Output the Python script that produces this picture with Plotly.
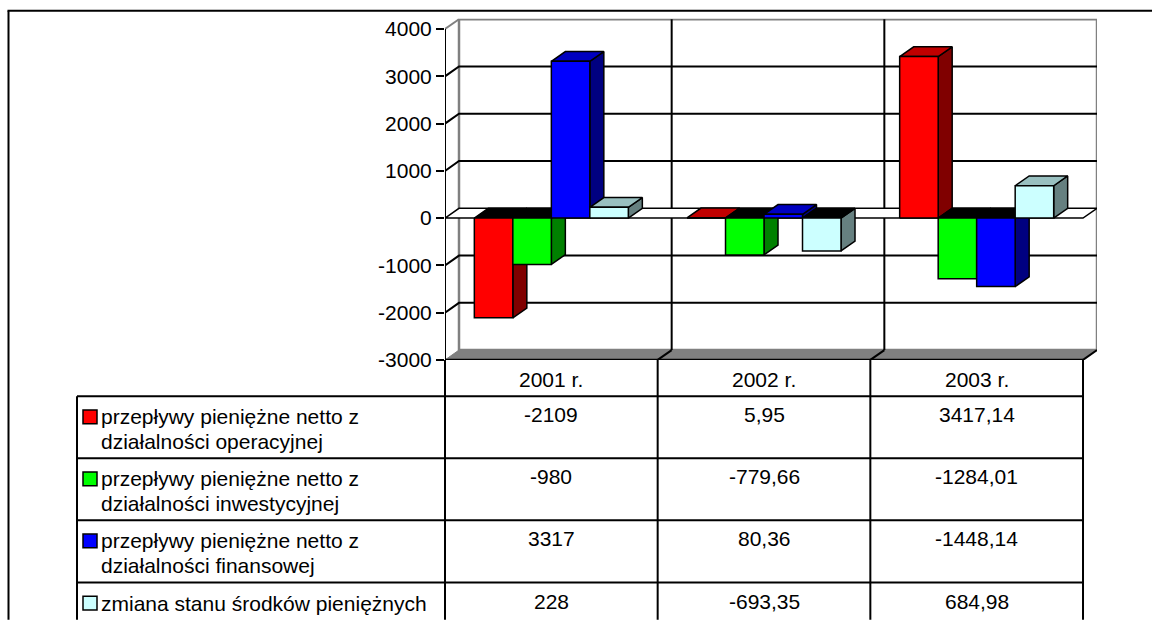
import plotly.graph_objects as go

# ---------------- data ----------------
categories = ["2001 r.", "2002 r.", "2003 r."]
series_names = [
    "przepływy pieniężne netto z\ndziałalności operacyjnej",
    "przepływy pieniężne netto z\ndziałalności inwestycyjnej",
    "przepływy pieniężne netto z\ndziałalności finansowej",
    "zmiana stanu środków pieniężnych",
]
operacyjna = [-2109, 5.95, 3417.14]
inwestycyjna = [-980, -779.66, -1284.01]
finansowa = [3317, 80.36, -1448.14]
zmiana = [228, -693.35, 684.98]
tick_values = [-3000, -2000, -1000, 0, 1000, 2000, 3000, 4000]

series_values = [operacyjna, inwestycyjna, finansowa, zmiana]

# ---------------- styles ----------------
front_colors = ["#FF0000", "#00FF00", "#0000FF", "#CCFFFF"]
side_colors = ["#800000", "#008000", "#000080", "#668080"]
top_colors = ["#C00000", "#00C000", "#0000C0", "#99C0C0"]
FONT = "Liberation Sans, Arial, sans-serif"
FS = 21

# ---------------- geometry (screen pixels) ----------------
W, H = 1152, 621
PLOT_L, PLOT_R, PLOT_T, PLOT_B = 445, 1097, 18, 366
CAT_PX = 212.67          # pixels per category
PX_PER_UNIT = 0.0482     # pixels per value unit
XMIN = -0.5
XMAX = XMIN + (PLOT_R - PLOT_L) / CAT_PX
YMIN = tick_values[0]
YMAX = YMIN + (PLOT_B - PLOT_T) / PX_PER_UNIT
DX = 14 / CAT_PX         # depth offset (x)
DY = 10 / PX_PER_UNIT    # depth offset (y)
BAR_W = 38.5 / CAT_PX
YTOP = tick_values[-1]


def xpx(x):
    return PLOT_L + (x - XMIN) * CAT_PX


def px_x(p):
    return p / W


def px_y(p):
    return 1 - p / H


fig = go.Figure()
shapes = []


def path(points):
    return "M " + " L ".join(f"{x},{y}" for x, y in points) + " Z"


xr_end = XMIN + len(categories)

# back wall
shapes.append(dict(type="rect", xref="x", yref="y", layer="below",
                   x0=XMIN + DX, x1=xr_end + DX, y0=YMIN + DY, y1=YTOP + DY,
                   fillcolor="white", line=dict(color="#808080", width=2.5)))
# floor
shapes.append(dict(type="path", xref="x", yref="y", layer="below",
                   path=path([(XMIN, YMIN), (xr_end, YMIN), (xr_end + DX, YMIN + DY), (XMIN + DX, YMIN + DY)]),
                   fillcolor="#808080", line=dict(color="#808080", width=1)))
# top diagonal of side wall
shapes.append(dict(type="line", xref="x", yref="y", layer="below",
                   x0=XMIN, y0=YTOP, x1=XMIN + DX, y1=YTOP + DY,
                   line=dict(color="#808080", width=2)))
# horizontal gridlines
for v in tick_values[1:-1]:
    if v == 0:
        continue
    shapes.append(dict(type="path", xref="x", yref="y", layer="below",
                       path="M {},{} L {},{} L {},{}".format(XMIN, v, XMIN + DX, v + DY, xr_end + DX, v + DY),
                       line=dict(color="black", width=2)))
# vertical gridlines between categories
for i in range(1, len(categories)):
    xb = XMIN + i + DX
    shapes.append(dict(type="line", xref="x", yref="y", layer="below",
                       x0=xb, x1=xb, y0=YMIN + DY, y1=YTOP + DY,
                       line=dict(color="black", width=2)))
# floor category separators
for i in range(1, len(categories) + 1):
    xb = XMIN + i
    shapes.append(dict(type="line", xref="x", yref="y", layer="below",
                       x0=xb, y0=YMIN, x1=xb + DX, y1=YMIN + DY,
                       line=dict(color="black", width=2)))
# zero plane
shapes.append(dict(type="path", xref="x", yref="y", layer="below",
                   path=path([(XMIN, 0), (xr_end, 0), (xr_end + DX, DY), (XMIN + DX, DY)]),
                   fillcolor="white", line=dict(color="black", width=1.5)))
# y axis line
shapes.append(dict(type="line", xref="x", yref="y", layer="above",
                   x0=XMIN, x1=XMIN, y0=YMIN, y1=YTOP,
                   line=dict(color="black", width=2)))
# floor front edge
shapes.append(dict(type="line", xref="x", yref="y", layer="above",
                   x0=XMIN, x1=xr_end, y0=YMIN, y1=YMIN,
                   line=dict(color="black", width=2.5)))

# ---------------- 3D bars as polygons ----------------
n = len(series_values)
for i in range(len(categories)):
    for j in range(n):
        v = series_values[j][i]
        xl = i - n / 2 * BAR_W + j * BAR_W
        xr = xl + BAR_W
        t = v if v > 0 else 0
        faces = [
            ([xr, xr + DX, xr + DX, xr, xr], [0, DY, v + DY, v, 0], side_colors[j]),
            ([xl, xr, xr + DX, xl + DX, xl], [t, t, t + DY, t + DY, t],
             top_colors[j] if v > 0 else "#000000"),
            ([xl, xr, xr, xl, xl], [0, 0, v, v, 0], front_colors[j]),
        ]
        for fx, fy, col in faces:
            fig.add_trace(go.Scatter(x=fx, y=fy, mode="lines", fill="toself",
                                     fillcolor=col, line=dict(color="black", width=1.5),
                                     hoverinfo="skip", showlegend=False))

# ---------------- data table ----------------
HEAD_T, HEAD_B = 366, 403
ROW_H = 63.3
LABEL_L = 77
TABLE_R = xpx(xr_end)
BOTTOM = H + 10
row_tops = [HEAD_B + k * ROW_H for k in range(n)]

for i in range(len(categories) + 1):
    xp = xpx(XMIN + i)
    shapes.append(dict(type="line", xref="paper", yref="paper",
                       x0=px_x(xp), x1=px_x(xp), y0=px_y(HEAD_T), y1=px_y(BOTTOM),
                       line=dict(color="black", width=2)))
shapes.append(dict(type="line", xref="paper", yref="paper",
                   x0=px_x(LABEL_L), x1=px_x(LABEL_L), y0=px_y(HEAD_B), y1=px_y(BOTTOM),
                   line=dict(color="black", width=2)))
for rt in row_tops:
    shapes.append(dict(type="line", xref="paper", yref="paper",
                       x0=px_x(LABEL_L), x1=px_x(TABLE_R), y0=px_y(rt), y1=px_y(rt),
                       line=dict(color="black", width=2)))

annotations = []


def fmt(v):
    if float(v).is_integer():
        return str(int(v))
    return f"{v:.2f}".replace(".", ",")


for i, cat in enumerate(categories):
    cx = px_x(xpx(i))
    annotations.append(dict(xref="paper", yref="paper", x=cx, y=px_y(386),
                            text=cat, showarrow=False, xanchor="center", yanchor="middle",
                            font=dict(family=FONT, size=FS, color="black")))
    for j in range(n):
        annotations.append(dict(xref="paper", yref="paper", x=cx, y=px_y(row_tops[j] + 19),
                                text=fmt(series_values[j][i]), showarrow=False,
                                xanchor="center", yanchor="middle",
                                font=dict(family=FONT, size=FS, color="black")))

for j, name in enumerate(series_names):
    rt = row_tops[j]
    shapes.append(dict(type="rect", xref="paper", yref="paper",
                       x0=px_x(83), x1=px_x(97), y0=px_y(rt + 14), y1=px_y(rt + 28),
                       fillcolor=front_colors[j], line=dict(color="black", width=1.5)))
    for k, line_text in enumerate(name.split("\n")):
        annotations.append(dict(xref="paper", yref="paper", x=px_x(99), y=px_y(rt + 21 + k * 25.5),
                                text=line_text, showarrow=False, xanchor="left", yanchor="middle",
                                font=dict(family=FONT, size=FS, color="black")))

# outer frame
shapes.append(dict(type="line", xref="paper", yref="paper",
                   x0=px_x(8.5), x1=px_x(8.5), y0=px_y(10), y1=px_y(BOTTOM),
                   line=dict(color="black", width=2)))
shapes.append(dict(type="line", xref="paper", yref="paper",
                   x0=px_x(7.5), x1=px_x(W + 20), y0=px_y(10), y1=px_y(10),
                   line=dict(color="black", width=2)))

fig.update_layout(
    width=W, height=H,
    margin=dict(l=0, r=0, t=0, b=0),
    paper_bgcolor="white", plot_bgcolor="rgba(0,0,0,0)",
    showlegend=False,
    shapes=shapes,
    annotations=annotations,
    xaxis=dict(domain=[px_x(PLOT_L), px_x(PLOT_R)], range=[XMIN, XMAX], visible=False, fixedrange=True),
    yaxis=dict(domain=[px_y(PLOT_B), px_y(PLOT_T)], range=[YMIN, YMAX],
               tickvals=tick_values, ticktext=[str(v) for v in tick_values],
               ticks="outside", ticklen=8, tickwidth=2, tickcolor="black",
               showgrid=False, zeroline=False, showline=False,
               tickfont=dict(family=FONT, size=FS, color="black"), fixedrange=True),
)

fig.write_html("out.html", config={"displayModeBar": False},
               post_script="document.body.style.margin='0';document.body.style.overflow='hidden';")
